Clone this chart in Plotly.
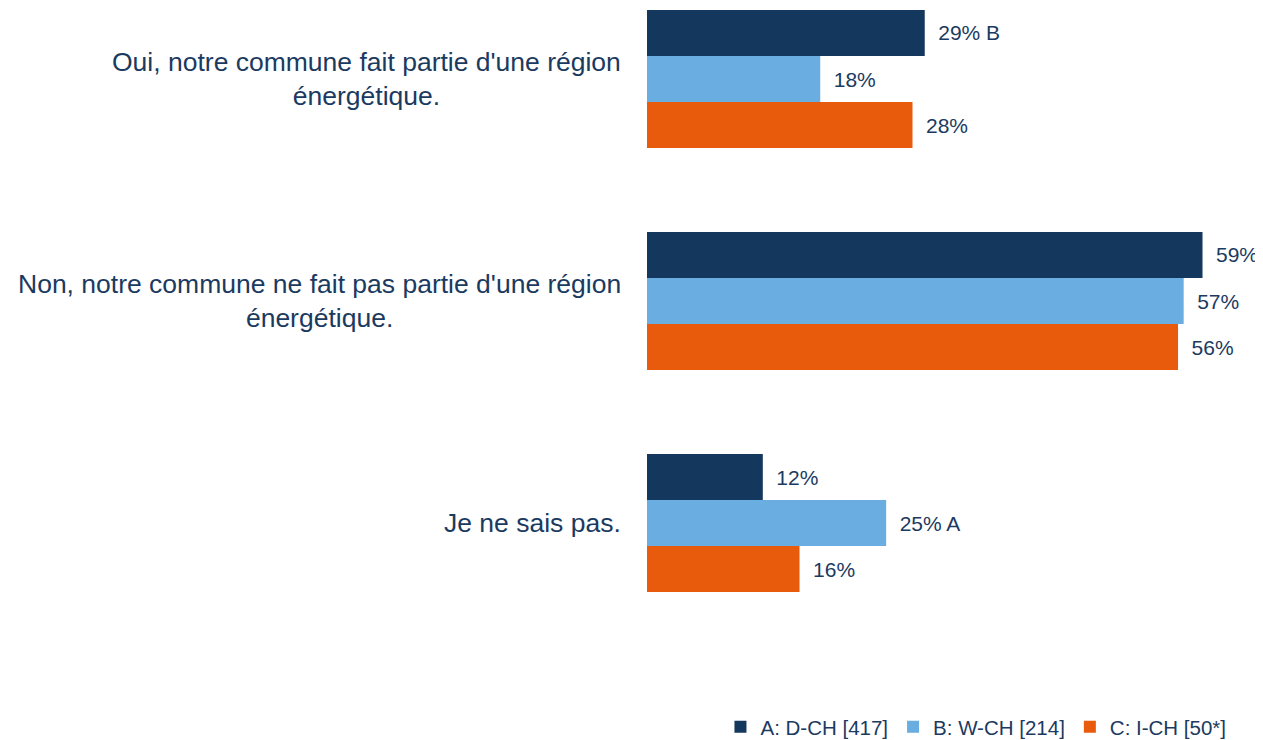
import plotly.graph_objects as go

categories = [
    "Oui, notre commune fait partie d'une région<br>énergétique.",
    "Non, notre commune ne fait pas partie d'une région<br>énergétique.",
    "Je ne sais pas.",
]
series_names = ["A: D-CH [417]", "B: W-CH [214]", "C: I-CH [50*]"]
values_a = [29.5, 59.0, 12.3]
values_b = [18.4, 57.0, 25.4]
values_c = [28.2, 56.4, 16.2]
labels_a = ["29% B", "59%", "12%"]
labels_b = ["18%", "57%", "25% A"]
labels_c = ["28%", "56%", "16%"]
colors = ["#14375E", "#6AADE0", "#E95B0C"]

TEXT = "#1B3A5F"
FONT = "Liberation Sans, Arial, sans-serif"

positions = list(range(len(categories)))

fig = go.Figure()
for name, vals, labs, col in zip(series_names, [values_a, values_b, values_c],
                                 [labels_a, labels_b, labels_c], colors):
    fig.add_trace(go.Bar(
        y=positions, x=vals, orientation="h", name=name,
        marker=dict(color=col, line=dict(width=0)),
        text=["\u2002" + t for t in labs], textposition="outside",
        textfont=dict(size=21, color=TEXT, family=FONT),
        cliponaxis=False, constraintext="none",
        hoverinfo="skip",
    ))

for i, cat in enumerate(categories):
    fig.add_annotation(
        x=0, xref="paper", y=i, yref="y", text=cat, showarrow=False,
        xanchor="right", yanchor="middle", align="center", xshift=-24,
        font=dict(size=26.5, color=TEXT, family=FONT),
    )

fig.update_layout(
    width=1255, height=732,
    margin=dict(l=639, r=4, t=0, b=52, autoexpand=False),
    paper_bgcolor="white", plot_bgcolor="white",
    barmode="group", bargap=0.378, bargroupgap=0,
    font=dict(family=FONT, color=TEXT, size=21),
    xaxis=dict(range=[0, 65], visible=False, fixedrange=True),
    yaxis=dict(range=[2.743, -0.3198], visible=False, fixedrange=True),
    legend=dict(orientation="h", x=0.955, xanchor="right",
                yref="container", y=0.0178, yanchor="middle",
                font=dict(size=20.5, color=TEXT, family=FONT),
                itemwidth=30, traceorder="normal"),
    showlegend=True,
)

fig.write_html("out.html")
